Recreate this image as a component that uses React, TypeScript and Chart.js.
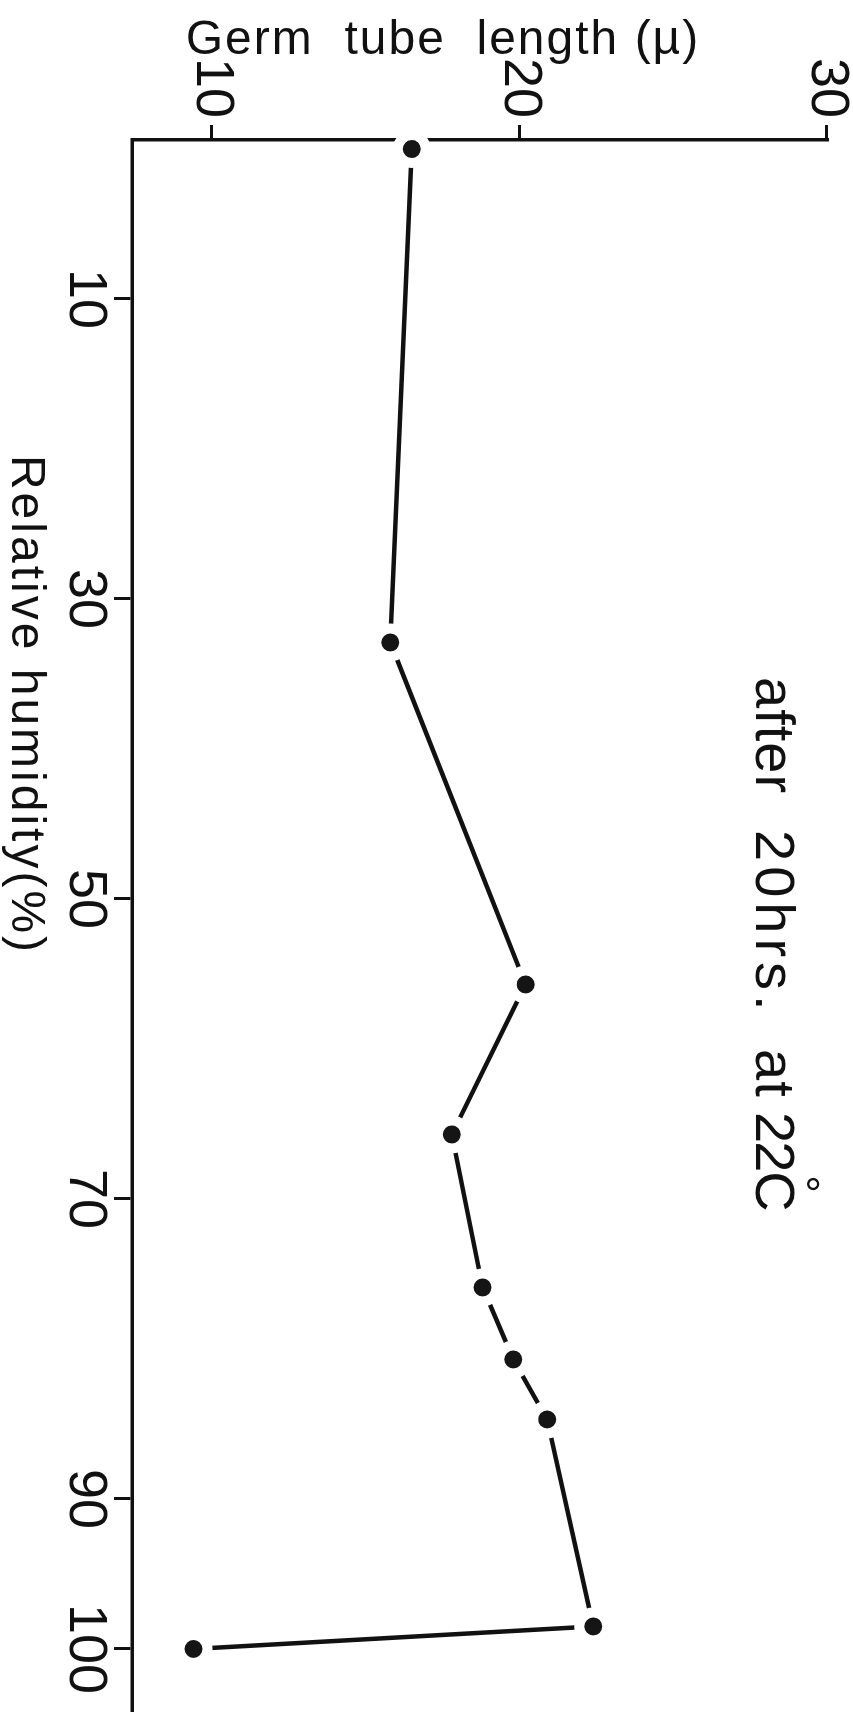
import React, { useEffect, useRef } from "react";
import { Chart, registerables } from "chart.js";

Chart.register(...registerables);

// ---- data ----
const relativeHumidity = [0, 32.9, 55.7, 65.7, 75.9, 80.7, 84.7, 98.5, 100];
const germTubeLength = [16.5, 15.8, 20.2, 17.8, 18.8, 19.8, 20.9, 22.4, 9.4];
const humidityTicks = [10, 30, 50, 70, 90, 100];
const lengthTicks = [10, 20, 30];

const X_TITLE = "Relative humidity(%)";
const Y_TITLE = "Germ  tube  length (µ)";
const NOTE_WORDS = ["after", "20hrs.", "at", "22"];
const NOTE_UNIT = "C";
const NOTE_DEGREE = "°";

const FONT = "'Liberation Sans', Arial, sans-serif";

// The chart is drawn in its "original" orientation on a canvas, then the
// canvas is rotated 90deg clockwise. EXTRA hangs off the page (clipped).
const PAGE_W = 853;
const PAGE_H = 1712;
const EXTRA = 60;
const CW = 1800;
const CH = PAGE_W + EXTRA;

const overlayText = {
  id: "overlayText",
  afterDraw(chart: any) {
    const ctx = chart.ctx as CanvasRenderingContext2D;
    ctx.save();
    ctx.fillStyle = "#111";
    // x axis title
    ctx.font = `48px ${FONT}`;
    (ctx as any).letterSpacing = "3px";
    ctx.textAlign = "center";
    ctx.textBaseline = "middle";
    ctx.fillText(X_TITLE, 705, EXTRA + 828);
    // y axis title (vertical)
    ctx.save();
    ctx.translate(41, EXTRA + 410);
    ctx.rotate(-Math.PI / 2);
    (ctx as any).letterSpacing = "2px";
    ctx.fillText(Y_TITLE, 0, 0);
    ctx.restore();
    // annotation, word by word
    ctx.font = `56px ${FONT}`;
    ctx.textAlign = "left";
    ctx.textBaseline = "alphabetic";
    const base = EXTRA + 97;
    const starts = [677, 830, 1049, 1112];
    const spacing = ["1px", "5px", "1px", "-2px"];
    NOTE_WORDS.forEach((w, i) => {
      (ctx as any).letterSpacing = spacing[i];
      ctx.fillText(w, starts[i], base);
    });
    (ctx as any).letterSpacing = "-2px";
    const w22 = ctx.measureText(NOTE_WORDS[3]).width;
    const cx = starts[3] + w22 + 1;
    (ctx as any).letterSpacing = "0px";
    ctx.fillText(NOTE_UNIT, cx, base);
    ctx.font = `44px ${FONT}`;
    ctx.fillText(NOTE_DEGREE, cx + 4, base - 32);
    ctx.restore();
  },
};

export default function App() {
  const ref = useRef<HTMLCanvasElement | null>(null);

  useEffect(() => {
    if (!ref.current) return;
    const points = relativeHumidity.map((h, i) => ({ x: h, y: germTubeLength[i] }));
    const chart = new Chart(ref.current, {
      type: "line",
      data: {
        datasets: [
          {
            data: points,
            borderColor: "#111",
            borderWidth: 4.5,
            tension: 0,
            pointRadius: 14,
            pointHoverRadius: 14,
            pointBackgroundColor: "#151515",
            pointBorderColor: "#ffffff",
            pointBorderWidth: 10,
            clip: false as any,
          },
        ],
      },
      options: {
        animation: false,
        responsive: false,
        devicePixelRatio: 1,
        layout: {
          autoPadding: false,
          padding: { left: 0, right: 0, top: EXTRA + 26, bottom: 0 },
        },
        plugins: {
          legend: { display: false },
          tooltip: { enabled: false },
        },
        scales: {
          x: {
            type: "linear",
            min: -0.6,
            max: 110.07,
            afterBuildTicks: (s: any) => {
              s.ticks = humidityTicks.map((v) => ({ value: v }));
            },
            afterFit: (s: any) => {
              s.height = 132;
            },
            ticks: {
              color: "#111",
              font: { family: FONT, size: 54, lineHeight: 1 },
              padding: 2,
              autoSkip: false,
              maxRotation: 0,
              minRotation: 0,
            },
            grid: {
              display: true,
              drawOnChartArea: false,
              drawTicks: true,
              tickLength: 18,
              tickWidth: 3,
              tickColor: "#111",
            },
            border: { display: true, color: "#111", width: 3.5 },
          },
          y: {
            type: "linear",
            min: 7.4,
            max: 30,
            z: 1,
            afterBuildTicks: (s: any) => {
              s.ticks = lengthTicks.map((v) => ({ value: v }));
            },
            afterFit: (s: any) => {
              s.width = 140;
            },
            ticks: {
              color: "#111",
              font: { family: FONT, size: 54, lineHeight: 1 },
              padding: 7,
              autoSkip: false,
            },
            grid: {
              display: true,
              drawOnChartArea: false,
              drawTicks: true,
              tickLength: 15,
              tickWidth: 3,
              tickColor: "#111",
            },
            border: { display: true, color: "#111", width: 3.5 },
          },
        },
      },
      plugins: [overlayText],
    });
    return () => chart.destroy();
  }, []);

  return (
    <div
      style={{
        position: "absolute",
        left: 0,
        top: 0,
        width: PAGE_W,
        height: PAGE_H,
        overflow: "hidden",
        background: "#fff",
      }}
    >
      <div
        style={{
          position: "absolute",
          left: 0,
          top: 0,
          width: CW,
          height: CH,
          transformOrigin: "0 0",
          transform: `translate(${CH}px, 0px) rotate(90deg)`,
        }}
      >
        <canvas ref={ref} width={CW} height={CH} style={{ width: CW, height: CH, display: "block" }} />
      </div>
    </div>
  );
}
